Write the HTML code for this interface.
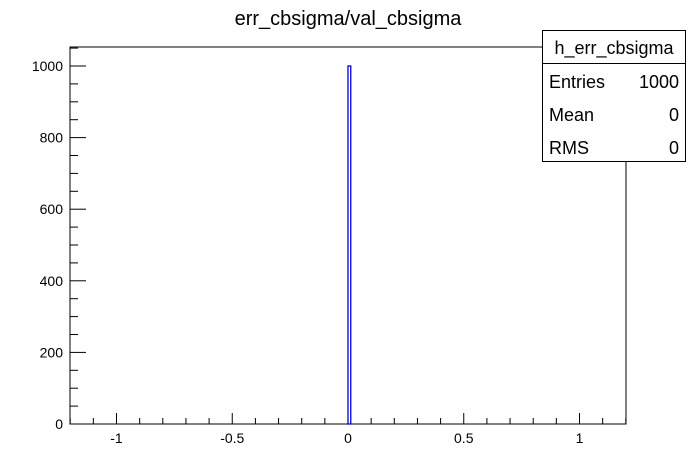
<!DOCTYPE html>
<html><head><meta charset="utf-8"><style>
body{margin:0;background:#fff;}
svg{display:block;font-family:"Liberation Sans",sans-serif;}
</style></head><body>
<svg id="c" width="696" height="472">
<rect width="696" height="472" fill="#fff"/>
<text x="348" y="25" text-anchor="middle" font-size="20">err_cbsigma/val_cbsigma</text>
<rect x="70" y="47" width="556" height="377" fill="none" stroke="#000"/>
<g id="ax"></g>
<g id="bars"></g>
<g>
<rect x="542.5" y="30.5" width="143" height="131" fill="#fff" stroke="#000"/>
<line x1="542.5" y1="63.5" x2="685.5" y2="63.5" stroke="#000"/>
<text x="614" y="54" text-anchor="middle" font-size="18">h_err_cbsigma</text>
<text x="549" y="88" font-size="18">Entries</text><text x="679" y="88" text-anchor="end" font-size="18">1000</text>
<text x="549" y="121" font-size="18">Mean</text><text x="679" y="121" text-anchor="end" font-size="18">0</text>
<text x="549" y="154" font-size="18">RMS</text><text x="679" y="154" text-anchor="end" font-size="18">0</text>
</g>
</svg>
<script>
const binLow=[0];
const binHigh=[0.012];
const counts=[1000];
const xTicks=[-1,-0.5,0,0.5,1];
const xTickLabels=["-1","-0.5","0","0.5","1"];
const yTicks=[0,200,400,600,800,1000];
const yTickLabels=["0","200","400","600","800","1000"];
const X=v=>348+v*231.5;
const Y=v=>424-v*0.358;
const NS="http://www.w3.org/2000/svg";
const ax=document.getElementById('ax'),bars=document.getElementById('bars');
function mk(t,a,p){const e=document.createElementNS(NS,t);for(const k in a)e.setAttribute(k,a[k]);p.appendChild(e);return e;}
for(let i=-12;i<=12;i++){const v=i/10;const x=X(v);if(x<70||x>626)continue;const maj=i%5===0;
const l=mk('line',{x1:x,y1:424,x2:x,y2:424-(maj?11:6),stroke:'#000'},ax);

}
xTicks.forEach((v,i)=>{const t=mk('text',{x:X(v),y:443,'text-anchor':'middle','font-size':14},ax);t.textContent=xTickLabels[i];

});
for(let v=0;v<=1050;v+=50){const y=Y(v);if(y<47)continue;const maj=v%200===0;
const l=mk('line',{x1:70,y1:y,x2:70+(maj?16:8),y2:y,stroke:'#000'},ax);

}
yTicks.forEach((v,i)=>{const t=mk('text',{x:63,y:Y(v)+5,'text-anchor':'end','font-size':14},ax);t.textContent=yTickLabels[i];

});
counts.forEach((c,i)=>{const x1=X(binLow[i]),x2=X(binHigh[i]);
const r=mk('rect',{x:x1,y:Y(c),width:x2-x1,height:Y(0)-Y(c),fill:'none',stroke:'#0000cc','stroke-width':1.3},bars);

});
</script>
</body></html>
